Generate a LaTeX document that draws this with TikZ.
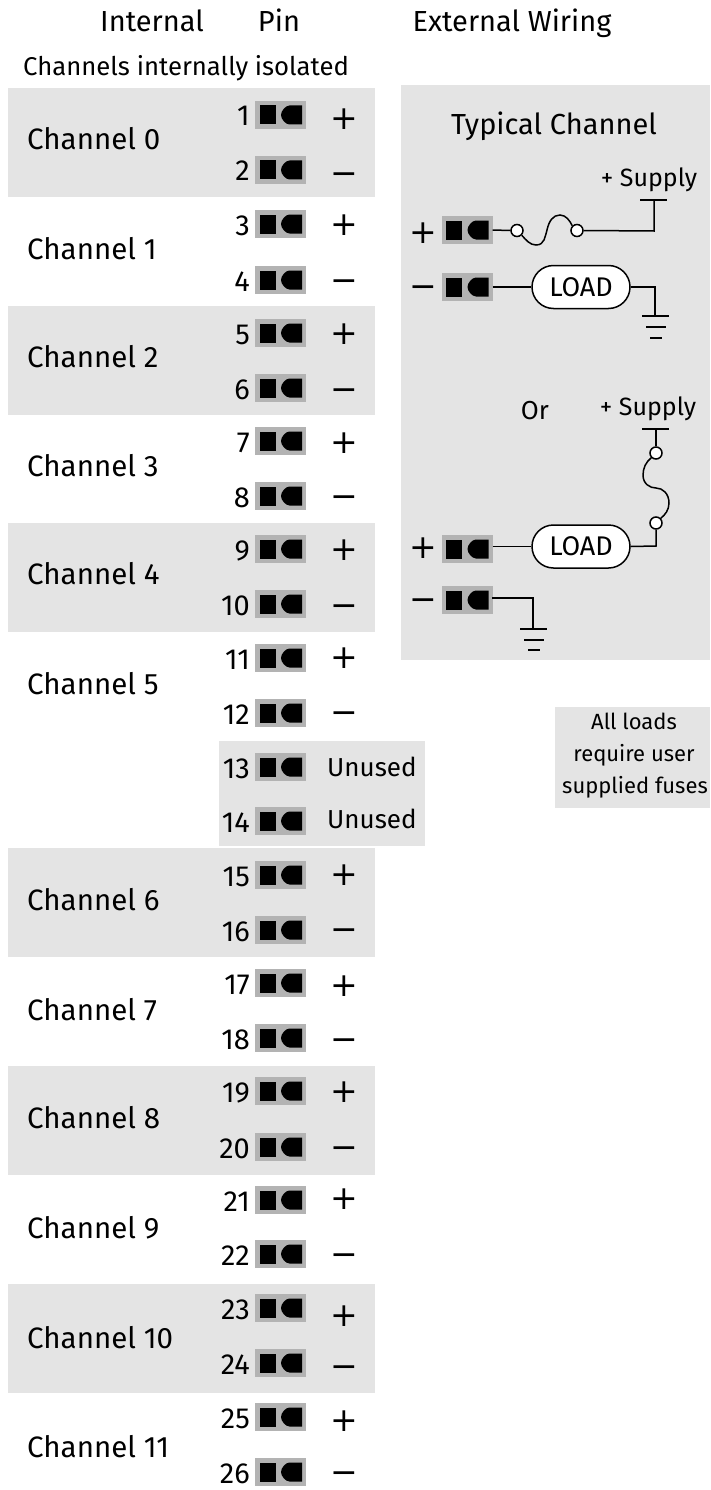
\documentclass[tikz,border=0pt]{standalone}
\usepackage{fontspec}
\setmainfont{Fira Sans}
\newfontfamily\signfont{DejaVu Sans}
\usetikzlibrary{shapes.misc}
\definecolor{band}{HTML}{E4E4E4}
\definecolor{pinbg}{HTML}{B3B3B3}
\newcommand{\fs}[1]{\fontsize{#1}{#1}\selectfont}
\tikzset{
 bandbox/.style={fill=band,draw=none},
 lbl/.style={inner sep=0pt,anchor=base,font=\fs{29}},
 lblleft/.style={inner sep=0pt,anchor=base west,font=\fs{29.5}},
 numlbl/.style={inner sep=0pt,anchor=base east,font=\fs{29}},
 signlbl/.style={inner sep=0pt,anchor=center,font=\signfont\fs{33}},
 small/.style={inner sep=0pt,anchor=base,font=\fs{22}},
 pinbase/.style={fill=pinbg,draw=none,minimum width=51pt,minimum height=28pt,inner sep=0pt},
 loadbox/.style={rounded rectangle,draw=black,fill=white,line width=1.5pt,minimum width=98pt,minimum height=43pt,inner sep=0pt,font=\fs{27}},
 wire/.style={line width=1.5pt,black},
 term/.style={circle,draw=black,fill=white,line width=1.5pt,minimum size=12pt,inner sep=0pt},
}
\newcommand{\pinblock}[3]{%
 \node[pinbase] (#1) at (#2,#3) {};
 \begin{scope}[shift={(#1.center)}]
 \fill[black] (-21,-9.5) rectangle (-5,9.5);
 \fill[black] (21.5,-9.5) -- (9,-9.5) .. controls (5,-9.5) and (0.5,-4) .. (0.5,0) .. controls (0.5,4) and (5,9.5) .. (9,9.5) -- (21.5,9.5) -- cycle;
 \end{scope}
}
\begin{document}
\begin{tikzpicture}[x=1pt,y=-1pt]
\useasboundingbox (0,0) rectangle (710,1490);
% bands
\foreach \t/\nm in {88/a,306/b,523/c,848/d,1066/e,1284/f}{
 \fill[bandbox] (8,\t) rectangle (375,\t+109);
}
\fill[bandbox] (401,85) rectangle (710,660);
\fill[bandbox] (219,741) rectangle (425,846);
\fill[bandbox] (555,707) rectangle (710,808);
% headers
\node[lbl] (hint) at (152,32) {Internal};
\node[lbl] (hpin) at (279,32) {Pin};
\node[lbl] (hext) at (512,32) {External Wiring};
\node[lbl,font=\fs{25.7}] (hiso) at (186,76) {Channels internally isolated};
% channels
\foreach \c/\y in {0/150,1/259,2/367,3/476,4/584,5/694,6/910,7/1020,8/1128,9/1238,10/1348,11/1457}{
 \node[lblleft] (chan\c) at (27,\y) {Channel \c};
}
% pins
\foreach \n/\y in {1/115,2/170,3/224,4/280,5/333,6/388,7/441,8/496,9/549,10/604,11/658,12/713,13/767,14/821,15/875,16/930,17/983,18/1038,19/1091,20/1147,21/1200,22/1254,23/1308,24/1363,25/1417,26/1472}{
 \pinblock{pin\n}{280.5}{\y}
 \node[numlbl] (num\n) at (250,\y+11) {\n};
}
% signs
\foreach \i/\y in {a/119,c/225,e/334,g/443,j/550,l/658,o/875,q/986,s/1092,u/1199,w/1316,y/1421}{
 \node[signlbl] (plus\i) at (344,\y) {+};
}
\foreach \i/\y in {b/179,d/286,f/395,h/502,k/611,m/718,p/935,r/1045,t/1153,v/1260,x/1372,z/1478}{
 \node[signlbl] (minus\i) at (344,\y) {−};
}
\node[lblleft,font=\fs{26}] (un13) at (327,776) {Unused};
\node[lblleft,font=\fs{26}] (un14) at (327,828) {Unused};
% note
\node[small] (n1) at (634,729) {All loads};
\node[small] (n2) at (634,761) {require user};
\node[small] (n3) at (635,793) {supplied fuses};
% typical channel
\node[lbl] (typ) at (554,135) {Typical Channel};
\node[lbl,font=\fs{25}] (sup1) at (649,186) {+ Supply};
\node[signlbl] (ps1) at (423,233) {+};
\node[signlbl] (ms1) at (423,292) {−};
\pinblock{ea}{467}{230}
\pinblock{eb}{467}{287}
\node[term] (f1a) at (517,230.5) {};
\node[term] (f1b) at (577,230.5) {};
\coordinate (s1) at (654,200);
\coordinate (s1l) at (640,200);
\coordinate (s1r) at (667,200);
\coordinate (c1) at (654,231);
\draw[wire] (ea.east) -- (f1a.west);
\draw[wire] (f1b.east) -- (c1) -- (s1);
\draw[wire] (s1l) -- (s1r);
\coordinate (f1m) at (547,230);
\draw[wire] (f1a.south east) .. controls (526,240) and (530,245) .. (536,245) .. controls (545,245) and (545,236) .. (f1m) .. controls (549,221) and (553,215) .. (560,215) .. controls (566,215) and (570,221) .. (f1b.north west);
\node[loadbox] (l1) at (581,287) {LOAD};
\draw[wire] (eb.east) -- (l1.west);
\coordinate (g1) at (655,316);
\coordinate (c2) at (655,287);
\draw[wire] (l1.east) -- (c2) -- (g1);
\coordinate (g1l) at (642,316); \coordinate (g1r) at (669,316);
\coordinate (g1l2) at (646,327); \coordinate (g1r2) at (666,327);
\coordinate (g1l3) at (650,338); \coordinate (g1r3) at (662,338);
\draw[wire] (g1l) -- (g1r);
\draw[wire] (g1l2) -- (g1r2);
\draw[wire] (g1l3) -- (g1r3);
% or
\node[lbl,font=\fs{26}] (or) at (535,419) {Or};
\node[lbl,font=\fs{25}] (sup2) at (648,415) {+ Supply};
\node[signlbl] (ps2) at (423,548) {+};
\node[signlbl] (ms2) at (423,605) {−};
\pinblock{ec}{467}{549}
\pinblock{ed}{467}{600}
\node[loadbox] (l2) at (581,546.5) {LOAD};
\node[term] (f2a) at (656,453) {};
\node[term] (f2b) at (656,523) {};
\coordinate (s2) at (656,429);
\coordinate (s2l) at (642,429); \coordinate (s2r) at (669,429);
\coordinate (c3) at (656,546);
\draw[wire] (s2l) -- (s2r);
\draw[wire] (s2) -- (f2a.north);
\draw[wire] (f2b.south) -- (c3) -- (l2.east);
\draw[wire] (ec.east |- l2.west) -- (l2.west);
\coordinate (f2m) at (656,488);
\draw[wire] (f2a.south west) .. controls (646,462) and (643,468) .. (643,475) .. controls (643,484) and (650,488) .. (f2m) .. controls (663,488) and (669,494) .. (669,503) .. controls (669,510) and (665,515) .. (f2b.north east);
\coordinate (c4) at (533,598);
\coordinate (g2) at (533,629);
\coordinate (e0) at (492,598);
\draw[wire] (e0) -- (c4) -- (g2);
\coordinate (g2l) at (520,629); \coordinate (g2r) at (547,629);
\coordinate (g2l2) at (524,640); \coordinate (g2r2) at (544,640);
\coordinate (g2l3) at (528,650); \coordinate (g2r3) at (540,650);
\draw[wire] (g2l) -- (g2r);
\draw[wire] (g2l2) -- (g2r2);
\draw[wire] (g2l3) -- (g2r3);
\end{tikzpicture}
\end{document}
